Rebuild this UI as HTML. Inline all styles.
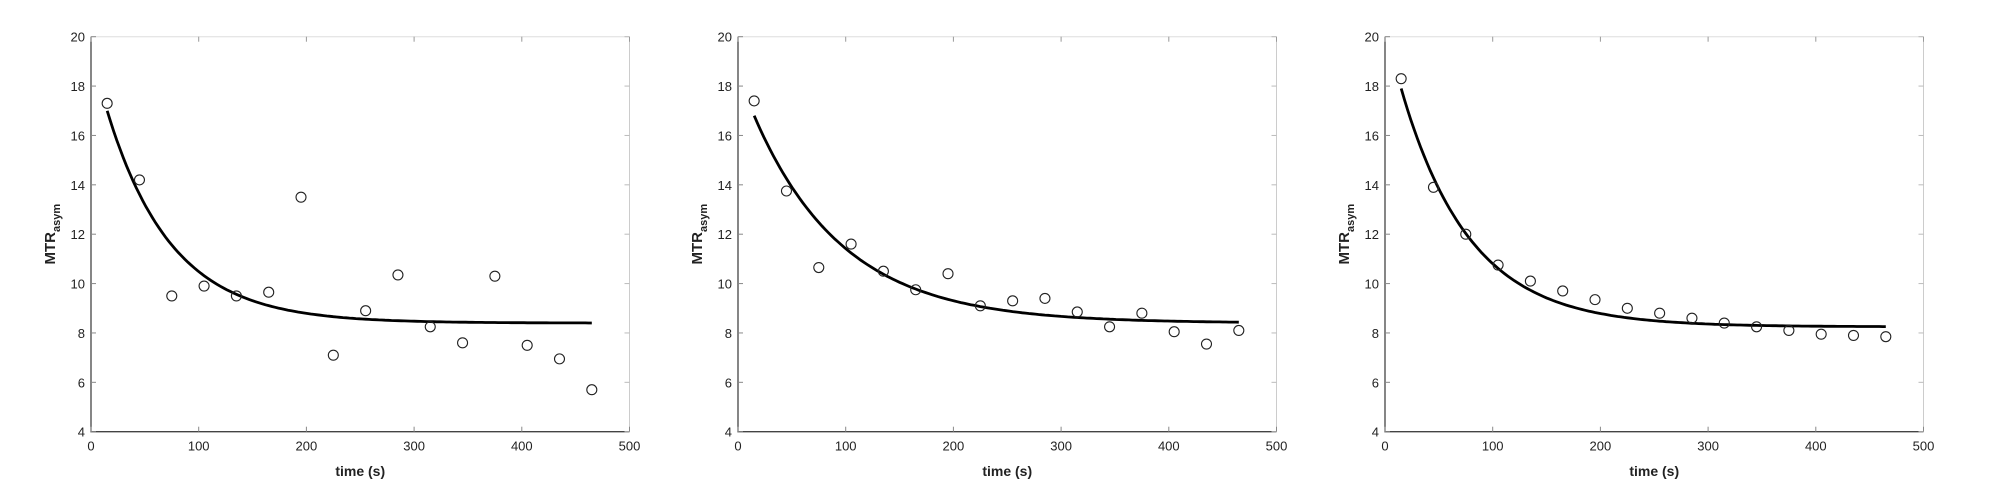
<!DOCTYPE html><html><head><style>body{margin:0;background:#fff}svg{display:block}</style></head><body>
<svg id="s" width="1991" height="485" xmlns="http://www.w3.org/2000/svg" font-family="Liberation Sans, sans-serif"></svg>
<script>
(function(){
var s=document.getElementById('s');var h='';
var panels=[
{x0:91,a:8.4,tau:60,y0:17.0,p:[17.3,14.2,9.5,9.9,9.5,9.65,13.5,7.1,8.9,10.35,8.25,7.6,10.3,7.5,6.95,5.7]},
{x0:738,a:8.4,tau:83,y0:16.8,p:[17.4,13.75,10.65,11.6,10.5,9.75,10.4,9.1,9.3,9.4,8.85,8.25,8.8,8.05,7.55,8.1]},
{x0:1385,a:8.25,tau:64,y0:17.9,p:[18.3,13.9,12.0,10.75,10.1,9.7,9.35,9.0,8.8,8.6,8.4,8.25,8.1,7.95,7.9,7.85]}];
var yT=36.7,yB=431.7,W=538.5;
panels.forEach(function(P){
 var X=function(t){return P.x0+t/500*W;}, Y=function(v){return yB-(v-4)/16*(yB-yT);};
 h+='<line x1="'+P.x0+'" y1="'+yT+'" x2="'+(P.x0+W)+'" y2="'+yT+'" stroke="#ddd"/><line x1="'+(P.x0+W)+'" y1="'+yT+'" x2="'+(P.x0+W)+'" y2="'+yB+'" stroke="#ccc"/>';
 h+='<path d="M'+P.x0+' '+yT+'V'+yB+'H'+(P.x0+W)+'" fill="none" stroke="#444" stroke-width="1.3"/>';
 for(var v=4;v<=20;v+=2){var y=Y(v);h+='<line x1="'+P.x0+'" y1="'+y+'" x2="'+(P.x0+5)+'" y2="'+y+'" stroke="#888"/><line x1="'+(P.x0+W-5)+'" y1="'+y+'" x2="'+(P.x0+W)+'" y2="'+y+'" stroke="#bbb"/><text x="'+(P.x0-6)+'" y="'+(y+5)+'" font-size="13" text-anchor="end" fill="#222">'+v+'</text>';}
 for(var t=0;t<=500;t+=100){var x=X(t);h+='<line x1="'+x+'" y1="'+yB+'" x2="'+x+'" y2="'+(yB-5)+'" stroke="#888"/><line x1="'+x+'" y1="'+yT+'" x2="'+x+'" y2="'+(yT+5)+'" stroke="#999"/><text x="'+x+'" y="'+(yB+19)+'" font-size="13" text-anchor="middle" fill="#222">'+t+'</text>';}
 h+='<text x="'+(P.x0+W/2)+'" y="476" font-size="14" font-weight="bold" text-anchor="middle" fill="#222">time (s)</text>';
 h+='<text transform="translate('+(P.x0-36)+','+((yT+yB)/2)+') rotate(-90)" font-size="15" font-weight="bold" text-anchor="middle" fill="#222">MTR<tspan font-size="11" dy="5">asym</tspan></text>';
 var d='';for(var tt=15;tt<=465;tt+=3){var vv=P.a+(P.y0-P.a)*Math.exp(-(tt-15)/P.tau);d+=(tt==15?'M':'L')+X(tt).toFixed(1)+' '+Y(vv).toFixed(1);}
 h+='<path d="'+d+'" fill="none" stroke="#000" stroke-width="2.8"/>';
 P.p.forEach(function(v,i){h+='<circle cx="'+X(15+30*i)+'" cy="'+Y(v)+'" r="5" fill="none" stroke="#222" stroke-width="1.1"/>';});
});
s.innerHTML=h;
})();
</script></body></html>
